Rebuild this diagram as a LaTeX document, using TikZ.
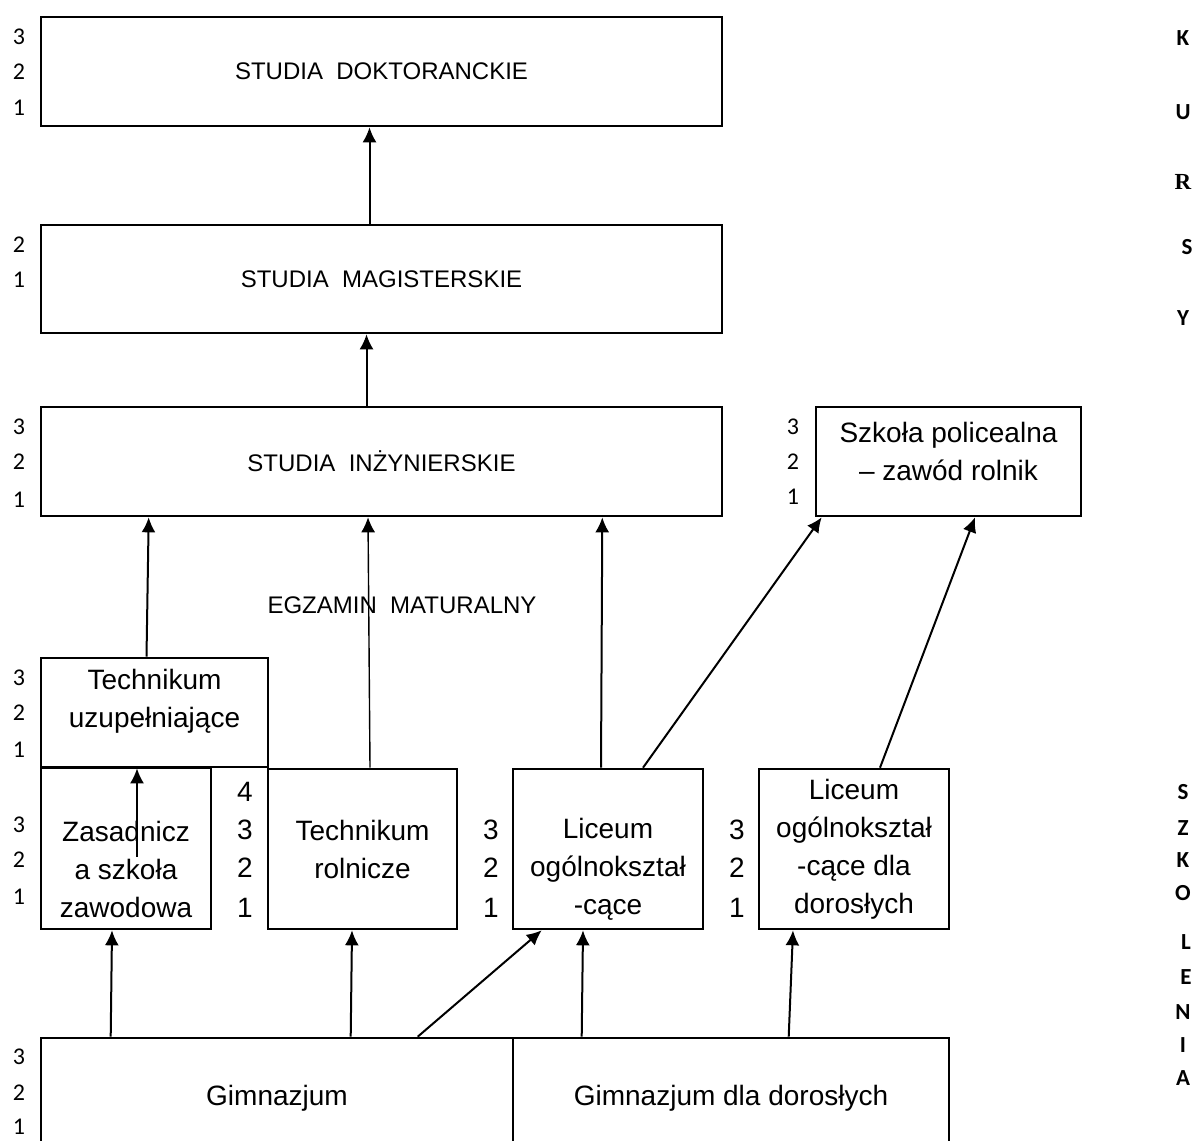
\documentclass[tikz,border=0pt]{standalone}
\usepackage{fontspec}
\setmainfont{Liberation Sans}
\newfontfamily\calfont{Carlito}
\newfontfamily\timesfont{Liberation Serif}
\usepackage{tikz}
\usetikzlibrary{arrows.meta,calc}
\newcommand\boxtxt{\fontsize{14pt}{19pt}\selectfont}
\newcommand\captxt{\fontsize{12pt}{14pt}\selectfont}
\tikzset{
  blok/.style 2 args={draw, line width=1.3pt, minimum width=#1*0.5pt, minimum height=#2*0.5pt, inner sep=0pt, align=center, font=\boxtxt},
  napis/.style={inner sep=0pt, align=center, font=\boxtxt},
  nr/.style={inner sep=0pt, font=\calfont\fontsize{12pt}{14pt}\selectfont},
  anr/.style={inner sep=0pt, font=\boxtxt},
  bok/.style={inner sep=0pt, font=\calfont\bfseries\fontsize{11.5pt}{14pt}\selectfont},
}
\begin{document}
\begin{tikzpicture}[x=0.5pt, y=-0.5pt, >={Latex[length=7.5pt,width=7pt]}]
\useasboundingbox (0,0) rectangle (1198,1140);
\clip (0,0) rectangle (1198,1140);
%\draw[help lines, step=50] (0,0) grid (1198,1140);
% studia
\node[blok={681}{109}, font=\captxt] (dok) at (381.5,71.5) {STUDIA~~DOKTORANCKIE};
\node[blok={681}{108}, font=\captxt] (mag) at (381.5,279) {STUDIA~~MAGISTERSKIE};
\node[blok={681}{109}, font=\captxt] (inz) at (381.5,461.5) {STUDIA~~INŻYNIERSKIE};
\node[blok={265}{109}] (pol) at (948.5,461.5) {};
\node[napis] (polt) at (948.5,451) {Szkoła policealna\\– zawód rolnik};
\node[inner sep=0pt, font=\captxt] (egz) at (402,605) {EGZAMIN~~MATURALNY};
% szkoly
\node[blok={227}{109}] (tu) at (154.5,712.5) {};
\node[napis] (tut) at (154.5,701.5) {Technikum\\uzupełniające};
\node[blok={170}{161}] (zas) at (126,848.5) {};
\node[napis] (zast) at (126,869) {Zasadnicz\\a szkoła\\zawodowa};
\node[blok={189}{160}] (tr) at (362.5,849) {Technikum\\rolnicze};
\node[blok={190}{160}] (lo) at (608,849) {};
\node[napis] (lot) at (608,869) {Liceum\\ogólnokształ\\-cące};
\node[blok={190}{160}] (lod) at (854,849) {Liceum\\ogólnokształ\\-cące dla\\dorosłych};
\node[blok={472}{120}] (gim) at (277,1098) {Gimnazjum};
\node[blok={436}{120}] (gimd) at (731,1098) {Gimnazjum dla dorosłych};
% lata nauki
\foreach \t/\y [count=\i] in {3/37,2/72,1/108} \node[nr] (ld\i) at (19,\y) {\t};
\foreach \t/\y [count=\i] in {2/245,1/280} \node[nr] (lm\i) at (19,\y) {\t};
\foreach \t/\y [count=\i] in {3/427,2/462,1/500} \node[nr] (li\i) at (19,\y) {\t};
\foreach \t/\y [count=\i] in {3/427,2/462,1/497} \node[nr] (lp\i) at (793,\y) {\t};
\foreach \t/\y [count=\i] in {3/678,2/713,1/750} \node[nr] (lt\i) at (19,\y) {\t};
\foreach \t/\y [count=\i] in {3/825,2/860,1/897} \node[nr] (lz\i) at (19,\y) {\t};
\foreach \t/\y [count=\i] in {3/1057,2/1093,1/1127} \node[nr] (lg\i) at (19,\y) {\t};
\foreach \t/\y [count=\i] in {4/792,3/830,2/868,1/908} \node[anr] (ar\i) at (245,\y) {\t};
\foreach \t/\y [count=\i] in {3/830,2/868,1/908} \node[anr] (al\i) at (491,\y) {\t};
\foreach \t/\y [count=\i] in {3/830,2/868,1/908} \node[anr] (ad\i) at (737,\y) {\t};
% boki
\foreach \l/\x/\y [count=\i] in {K/1183/38,U/1183/112,{\timesfont R}/1183/182,S/1187/247,Y/1183/318}
  \node[bok] (kur\i) at (\x,\y) {\l};
\foreach \l/\x/\y [count=\i] in {S/1183/792,Z/1183/828,K/1183/860,O/1183/893,L/1186/942,E/1186/977,N/1183/1012,I/1183/1045,A/1183/1078}
  \node[bok] (szk\i) at (\x,\y) {\l};
% strzalki
\begin{scope}[line width=1pt]
\draw[->] ($(mag.north)+(-12,0)$) -- ($(dok.south)+(-12,0)$);
\draw[->] ($(inz.north)+(-15,0)$) -- ($(mag.south)+(-15,0)$);
\draw[->] ($(tu.north)+(-8,0)$) -- ($(inz.south west)+(109,0)$);
\draw[->, line width=0.7pt] ($(tr.north)+(7.5,0)$) -- ($(inz.south)+(-13.5,0)$);
\draw[->] ($(lo.north)+(-7,0)$) -- ($(inz.south east)+(-121,0)$);
\draw[->] ($(lo.north)+(35,0)$) -- ($(pol.south west)+(7,0)$);
\draw[->] ($(lod.north)+(26,0)$) -- ($(pol.south)+(26.5,0)$);
\draw[->] ($(zas.center)+(11,8)$) -- ($(tu.south)+(-17.5,0)$);
\draw[->] ($(gim.north west)+(71,0)$) -- ($(zas.south)+(-14,0)$);
\draw[->] ($(gim.north west)+(311,0)$) -- ($(tr.south)+(-10.5,0)$);
\draw[->] ($(gim.north west)+(378,0)$) -- ($(lo.south west)+(30,0)$);
\draw[->] ($(gimd.north west)+(70,0)$) -- ($(lo.south)+(-25,0)$);
\draw[->] ($(gimd.north west)+(277,0)$) -- ($(lod.south)+(-61,0)$);
\end{scope}
\end{tikzpicture}
\end{document}
